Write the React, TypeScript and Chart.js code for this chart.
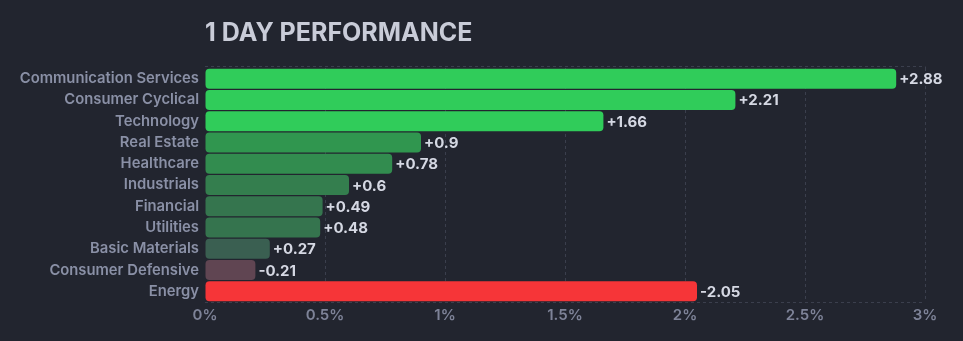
import React, { useEffect, useRef } from "react";
import { Chart, registerables } from "chart.js";

Chart.register(...registerables);

const sectors = [
  "Communication Services",
  "Consumer Cyclical",
  "Technology",
  "Real Estate",
  "Healthcare",
  "Industrials",
  "Financial",
  "Utilities",
  "Basic Materials",
  "Consumer Defensive",
  "Energy",
];
const changes = [2.88, 2.21, 1.66, 0.9, 0.78, 0.6, 0.49, 0.48, 0.27, -0.21, -2.05];
const barColors = [
  "#30cc5a",
  "#30cc5a",
  "#30cc5a",
  "rgb(48,150,79)",
  "rgb(50,140,79)",
  "rgb(52,126,78)",
  "rgb(53,117,78)",
  "rgb(53,116,78)",
  "rgb(58,95,81)",
  "rgb(96,69,82)",
  "#f63538",
];
const xTicks = [0, 0.5, 1, 1.5, 2, 2.5, 3];
const title = "1 DAY PERFORMANCE";

const BG = "#22252f";
const GRID = "#3b3f4d";
const FONT = "Inter, 'Noto Sans', sans-serif";

export default function App() {
  const ref = useRef<HTMLCanvasElement>(null);

  useEffect(() => {
    document.body.style.margin = "0";
    document.body.style.background = BG;
    const canvas = ref.current!;

    const extras = {
      id: "extras",
      beforeDraw(chart: any) {
        const { ctx, width, height } = chart;
        ctx.save();
        ctx.fillStyle = BG;
        ctx.fillRect(0, 0, width, height);
        ctx.restore();
      },
      beforeDatasetsDraw(chart: any) {
        const { ctx, chartArea } = chart;
        ctx.save();
        ctx.strokeStyle = GRID;
        ctx.lineWidth = 1;
        ctx.setLineDash([3, 3]);
        ctx.beginPath();
        ctx.moveTo(chartArea.left, chartArea.top - 1.5);
        ctx.lineTo(chartArea.right, chartArea.top - 1.5);
        ctx.moveTo(chartArea.right + 0.5, chartArea.top - 1.5);
        ctx.lineTo(chartArea.right + 0.5, chartArea.top);
        ctx.moveTo(chartArea.left, chartArea.bottom + 0.5);
        ctx.lineTo(chartArea.right, chartArea.bottom + 0.5);
        ctx.stroke();
        ctx.restore();
      },
      afterDatasetsDraw(chart: any) {
        const { ctx, chartArea } = chart;
        ctx.save();
        ctx.font = `700 25px ${FONT}`;
        ctx.fillStyle = "#c9ccd8";
        ctx.textAlign = "left";
        ctx.textBaseline = "alphabetic";
        ctx.fillText(title, chartArea.left, 41);
        const meta = chart.getDatasetMeta(0);
        ctx.font = `700 15px ${FONT}`;
        ctx.fillStyle = "#d5d8e3";
        ctx.textBaseline = "middle";
        meta.data.forEach((bar: any, i: number) => {
          const v = changes[i];
          const txt = (v > 0 ? "+" : "") + String(v);
          ctx.fillText(txt, bar.x + 3, bar.y + 1);
        });
        ctx.restore();
      },
    };

    const chart = new Chart(canvas, {
      type: "bar",
      data: {
        labels: sectors,
        datasets: [
          {
            data: changes.map((v) => Math.abs(v)),
            backgroundColor: barColors,
            borderRadius: 4,
            borderSkipped: false,
            barPercentage: 0.94,
            categoryPercentage: 1,
          },
        ],
      },
      options: {
        indexAxis: "y",
        responsive: false,
        animation: false,
        layout: { padding: { top: 68, right: 38, left: 0, bottom: 0 } },
        plugins: {
          legend: { display: false },
          tooltip: { enabled: false },
          title: { display: false },
        },
        scales: {
          x: {
            min: 0,
            max: 3,
            afterBuildTicks(scale: any) {
              scale.ticks = xTicks.map((v) => ({ value: v }));
            },
            afterFit(scale: any) {
              scale.height = 39;
            },
            grid: {
              color: (c: any) => (c.index === 0 ? "rgba(0,0,0,0)" : GRID),
              drawTicks: false,
            },
            border: { display: false, dash: [3, 3] },
            ticks: {
              color: "#7e8398",
              font: { family: FONT, size: 15, weight: 600 },
              padding: 4,
              maxRotation: 0,
              callback: (v: any) => `${v}%`,
            },
          },
          y: {
            afterFit(scale: any) {
              scale.width = 205;
            },
            grid: { display: false, drawTicks: false },
            border: { display: false },
            ticks: {
              color: "#8a90a6",
              font: { family: FONT, size: 14.8, weight: 600 },
              padding: 6,
              autoSkip: false,
            },
          },
        },
      },
      plugins: [extras],
    } as any);

    return () => chart.destroy();
  }, []);

  return <canvas ref={ref} width={963} height={341} style={{ display: "block" }} />;
}
